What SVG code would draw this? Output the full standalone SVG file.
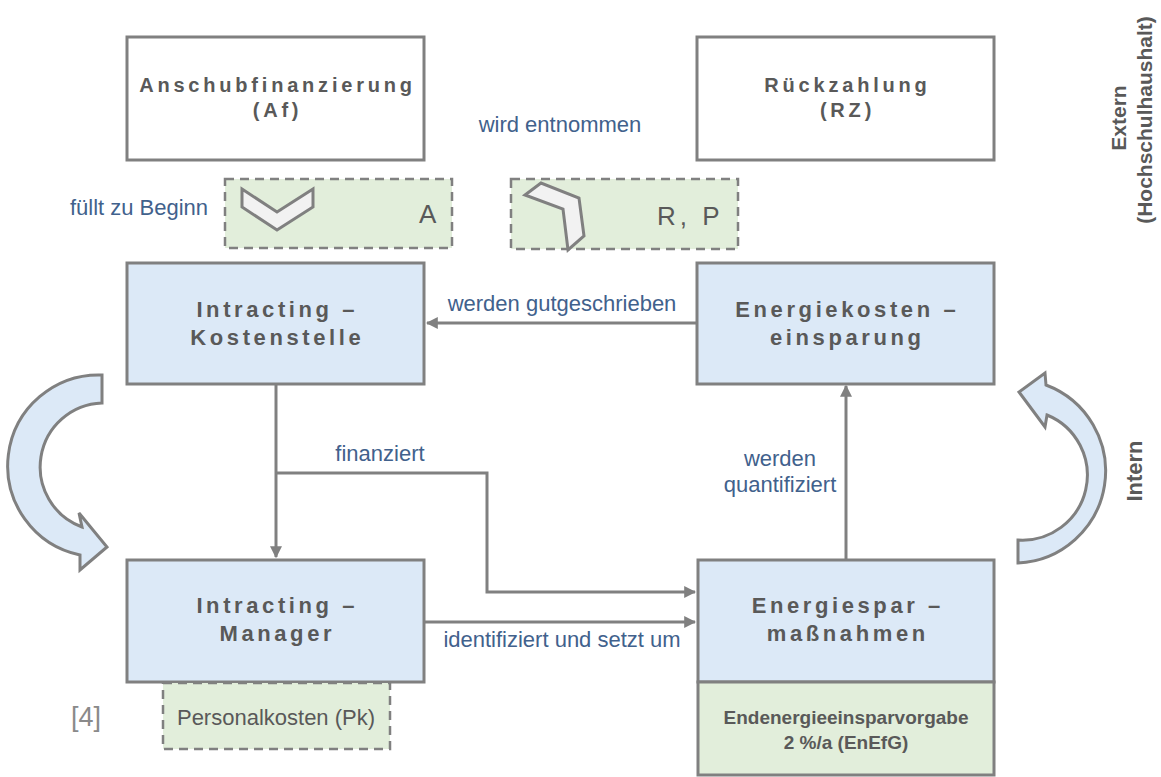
<svg xmlns="http://www.w3.org/2000/svg" width="1161" height="777" viewBox="0 0 1161 777">
<defs>
<marker id="ah" viewBox="0 0 10 10" refX="9" refY="5" markerWidth="4" markerHeight="4" orient="auto" markerUnits="strokeWidth">
<path d="M0,0 L10,5 L0,10 Z" fill="#808080"/>
</marker>
</defs>
<style>
.box{stroke:#808080;stroke-width:3}
.hdr{fill:#ffffff}
.blue{fill:#dce9f7}
.green{fill:#e2eedb}
.dash{fill:#e2eedb;stroke:#808080;stroke-width:2.5;stroke-dasharray:9,6}
.ttl{font-family:"Liberation Sans",Arial,sans-serif;font-weight:bold;fill:#595959;text-anchor:middle}
.lbl{font-family:"Liberation Sans",Arial,sans-serif;font-size:22px;fill:#41618c;text-anchor:middle}
.gr{font-family:"Liberation Sans",Arial,sans-serif;fill:#595959}
.conn{fill:none;stroke:#808080;stroke-width:3}
.curv{fill:#dce9f7;stroke:#808080;stroke-width:3;stroke-linejoin:miter}
.shape{fill:#f2f2f2;stroke:#808080;stroke-width:3}
</style>
<rect width="1161" height="777" fill="#ffffff"/>

<g id="anschub">
<rect class="box hdr" x="127" y="37" width="297" height="123"/>
<text class="ttl" font-size="20" letter-spacing="3.8" x="277.5" y="92">Anschubfinanzierung</text>
<text class="ttl" font-size="20" letter-spacing="3.8" x="277.5" y="117">(Af)</text>
</g>

<g id="rueckzahlung">
<rect class="box hdr" x="697" y="37" width="297" height="123"/>
<text class="ttl" font-size="20" letter-spacing="3.8" x="847.5" y="92">Rückzahlung</text>
<text class="ttl" font-size="20" letter-spacing="3.8" x="847.5" y="117">(RZ)</text>
</g>

<text class="lbl" x="560" y="132">wird entnommen</text>

<g id="fill-A">
<rect class="dash" x="225" y="179" width="227" height="69"/>
<polygon class="shape" points="242,189 277,212 313,189 313,207 277,230 242,207"/>
<text class="gr" font-size="26" x="419" y="223">A</text>
</g>
<text class="lbl" x="139" y="215">füllt zu Beginn</text>

<g id="take-RP">
<rect class="dash" x="511" y="179" width="227" height="70"/>
<polygon class="shape" points="525,195 541,183 579,198 584,236 568,250 563,209"/>
<text class="gr" font-size="26" letter-spacing="4" x="657" y="225">R, P</text>
</g>

<g id="kostenstelle">
<rect class="box blue" x="127" y="263" width="297" height="121"/>
<text class="ttl" font-size="22" letter-spacing="3.6" x="277.3" y="317">Intracting –</text>
<text class="ttl" font-size="22" letter-spacing="3.6" x="277.3" y="345">Kostenstelle</text>
</g>

<g id="energiekosten">
<rect class="box blue" x="697" y="263" width="297" height="121"/>
<text class="ttl" font-size="22" letter-spacing="3.6" x="847.3" y="317">Energiekosten –</text>
<text class="ttl" font-size="22" letter-spacing="3.6" x="847.3" y="345">einsparung</text>
</g>

<g id="manager">
<rect class="box blue" x="127" y="560" width="297" height="122"/>
<text class="ttl" font-size="22" letter-spacing="3.6" x="277.3" y="613">Intracting –</text>
<text class="ttl" font-size="22" letter-spacing="3.6" x="277.3" y="641">Manager</text>
</g>

<g id="personalkosten">
<rect class="dash" x="163" y="683" width="227" height="66"/>
<text class="gr" font-size="22" text-anchor="middle" x="276" y="725">Personalkosten (Pk)</text>
</g>
<text class="gr" font-size="27" fill="#808080" style="fill:#8a8a8a" x="71" y="726">[4]</text>

<g id="energiespar">
<rect class="box blue" x="698" y="560" width="296" height="122"/>
<text class="ttl" font-size="22" letter-spacing="3.6" x="847.8" y="613">Energiespar –</text>
<text class="ttl" font-size="22" letter-spacing="3.6" x="847.8" y="641">maßnahmen</text>
</g>

<g id="enefg">
<rect class="box green" x="698" y="682" width="296" height="93"/>
<text class="ttl" font-size="19" x="846" y="724">Endenergieeinsparvorgabe</text>
<text class="ttl" font-size="19" x="846" y="749">2 %/a (EnEfG)</text>
</g>

<g id="connectors">
<path class="conn" d="M697,323 L427,323" marker-end="url(#ah)"/>
<path class="conn" d="M276,384 L276,557" marker-end="url(#ah)"/>
<path class="conn" d="M276,473 L487,473 L487,592 L695,592" marker-end="url(#ah)"/>
<path class="conn" d="M424,622 L695,622" marker-end="url(#ah)"/>
<path class="conn" d="M846,560 L846,386" marker-end="url(#ah)"/>
</g>

<text class="lbl" x="562" y="311">werden gutgeschrieben</text>
<text class="lbl" x="380" y="461">finanziert</text>
<text class="lbl" x="780" y="466">werden</text>
<text class="lbl" x="780" y="492">quantifiziert</text>
<text class="lbl" x="562" y="647">identifiziert und setzt um</text>

<g id="cycle-left">
<path class="curv" d="M102,375 A91,91 0 0,0 80,555 L80,570 L107,547 L79,513 L82,527 A64,64 0 0,1 102,403 Z"/>
</g>
<g id="cycle-right">
<path class="curv" d="M1018,563 A92,92 0 0,0 1046,385 L1045,373 L1019,392 L1045,427 L1047,415 A65,65 0 0,1 1018,540 Z"/>
</g>

<text class="ttl" font-size="22" transform="translate(1142,471) rotate(-90)">Intern</text>
<text class="ttl" font-size="21" transform="translate(1126,118) rotate(-90)">Extern</text>
<text class="ttl" font-size="21" transform="translate(1152,120) rotate(-90)">(Hochschulhaushalt)</text>
</svg>
